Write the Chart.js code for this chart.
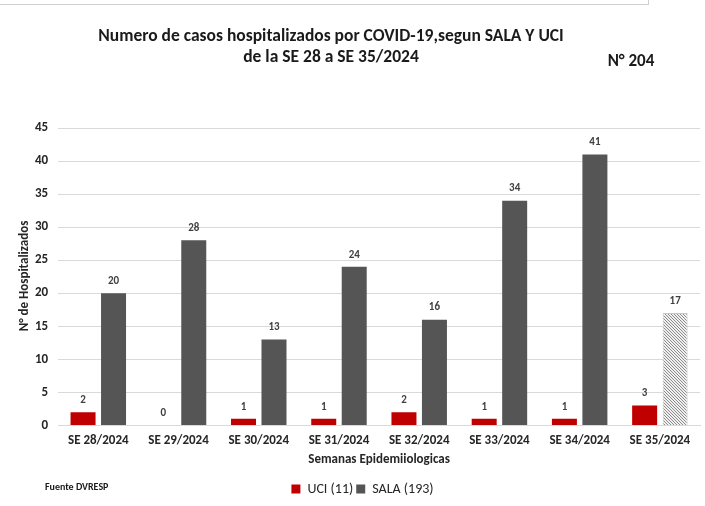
<!DOCTYPE html>
<html>
<head>
<meta charset="utf-8">
<script src="https://cdn.jsdelivr.net/npm/chart.js@4.4.1/dist/chart.umd.min.js"></script>
<style>
  html, body { margin: 0; padding: 0; background: #ffffff; }
  #wrap { position: relative; width: 705px; height: 506px; }
  #topline { position: absolute; left: 0; top: 0; width: 648px; height: 4px; border-bottom: 1px solid #d0d0d0; border-right: 1px solid #d0d0d0; }
</style>
</head>
<body>
<div id="wrap">
  <div id="topline"></div>
  <canvas id="c" width="705" height="506"></canvas>
</div>
<script>
const categories = ["SE 28/2024","SE 29/2024","SE 30/2024","SE 31/2024","SE 32/2024","SE 33/2024","SE 34/2024","SE 35/2024"];
const uciValues = [2, 0, 1, 1, 2, 1, 1, 3];
const salaValues = [20, 28, 13, 24, 16, 34, 41, 17];
const seriesLabels = ["UCI (11)", "SALA (193)"];
const titleLines = ["Numero de casos hospitalizados por COVID-19,segun SALA Y UCI", "de la SE 28 a SE 35/2024"];
const totalLabel = "N° 204";
const sourceLabel = "Fuente DVRESP";
const yAxisTitle = "N° de Hospitalizados";
const xAxisTitle = "Semanas Epidemiiologicas";
const yTicksMax = 45;
const yTicksStep = 5;

const FONT = "Carlito, Calibri, 'Liberation Sans Narrow', Lato, 'Open Sans', sans-serif";

function hatchPattern() {
  const p = document.createElement('canvas');
  p.width = 3; p.height = 3;
  const g = p.getContext('2d');
  g.fillStyle = '#f0f0f0';
  g.fillRect(0, 0, 3, 3);
  g.fillStyle = '#8c8c8c';
  g.fillRect(0, 0, 1, 1);
  g.fillRect(1, 1, 1, 1);
  g.fillRect(2, 2, 1, 1);
  return g.createPattern(p, 'repeat');
}

const ctx = document.getElementById('c').getContext('2d');
const hatch = hatchPattern();
const salaColors = salaValues.map((v, i) => i === salaValues.length - 1 ? hatch : '#555555');
const salaBorders = salaValues.map((v, i) => i === salaValues.length - 1 ? '#c8c8c8' : '#555555');

const textPlugin = {
  id: 'texts',
  afterDraw(chart) {
    const c = chart.ctx;
    c.save();
    c.fillStyle = '#1a1a1a';
    c.textAlign = 'center';
    c.textBaseline = 'middle';
    c.font = "bold 17.5px " + FONT;
    c.fillText(titleLines[0], 331, 37);
    c.fillText(titleLines[1], 331, 58);
    c.font = "bold 17px " + FONT;
    c.fillText(totalLabel, 631, 62);
    c.textAlign = 'left';
    c.font = "bold 10px " + FONT;
    c.fillText(sourceLabel, 45, 487);
    c.fillStyle = '#262626';
    c.font = "bold 13px " + FONT;
    c.translate(25, 276);
    c.rotate(-Math.PI / 2);
    c.textAlign = 'center';
    c.fillText(yAxisTitle, 0, 0);
    c.restore();
  },
  afterDatasetsDraw(chart) {
    const c = chart.ctx;
    c.save();
    c.fillStyle = '#404040';
    c.textAlign = 'center';
    c.textBaseline = 'middle';
    c.font = "bold 11px " + FONT;
    chart.data.datasets.forEach((ds, di) => {
      const meta = chart.getDatasetMeta(di);
      meta.data.forEach((bar, i) => {
        c.fillText(String(ds.data[i]), bar.x, bar.y - 12);
      });
    });
    c.restore();
  }
};

new Chart(ctx, {
  type: 'bar',
  data: {
    labels: categories,
    datasets: [
      { label: seriesLabels[0], data: uciValues, backgroundColor: '#c00000', borderColor: '#c00000', borderWidth: 0 },
      { label: seriesLabels[1], data: salaValues, backgroundColor: salaColors, borderColor: salaBorders, borderWidth: salaValues.map((v,i)=> i === salaValues.length-1 ? 1 : 0) }
    ]
  },
  options: {
    responsive: false,
    animation: false,
    layout: { padding: { top: 128, left: 25, right: 5, bottom: 0 } },
    datasets: { bar: { categoryPercentage: 0.76, barPercentage: 0.82 } },
    plugins: {
      legend: {
        position: 'bottom',
        labels: {
          boxWidth: 9, boxHeight: 9, padding: 3,
          color: '#262626',
          font: { family: FONT, size: 14 },
          generateLabels(chart) {
            return chart.data.datasets.map((ds, i) => ({
              text: ds.label,
              fillStyle: i === 0 ? '#c00000' : '#555555',
              strokeStyle: i === 0 ? '#c00000' : '#555555',
              lineWidth: 0,
              datasetIndex: i,
              fontColor: '#262626'
            }));
          }
        }
      },
      title: { display: false },
      tooltip: { enabled: false }
    },
    scales: {
      x: {
        grid: { display: false, drawTicks: false },
        border: { color: '#d9d9d9' },
        ticks: { color: '#262626', font: { family: FONT, size: 13, weight: 'bold', lineHeight: 1 }, padding: 9, maxRotation: 0 },
        title: { display: true, text: xAxisTitle, color: '#262626', font: { family: FONT, size: 13, weight: 'bold' }, padding: { top: -4, bottom: 11 } }
      },
      y: {
        min: 0, max: yTicksMax,
        grid: { color: '#d9d9d9', drawTicks: false },
        border: { display: false },
        ticks: { stepSize: yTicksStep, color: '#262626', font: { family: FONT, size: 13, weight: 'bold' }, padding: 10 },
        title: { display: false }
      }
    }
  },
  plugins: [textPlugin]
});
</script>
</body>
</html>
